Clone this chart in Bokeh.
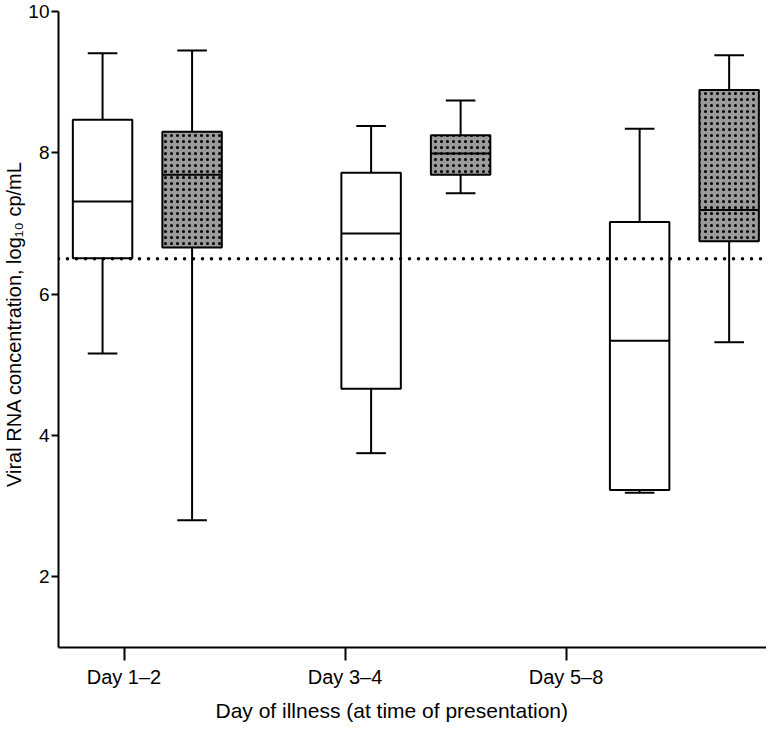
from bokeh.plotting import figure
from bokeh.models import Range1d, FixedTicker, Span, Title, ColumnDataSource
from bokeh.embed import file_html
from bokeh.resources import INLINE

# ---- data ----
groups = ["Day 1–2", "Day 3–4", "Day 5–8"]

white_low = [5.16, 3.75, 3.19]
white_q1 = [6.51, 4.66, 3.23]
white_med = [7.31, 6.86, 5.34]
white_q3 = [8.47, 7.72, 7.02]
white_high = [9.41, 8.38, 8.34]

gray_low = [2.80, 7.43, 5.32]
gray_q1 = [6.66, 7.69, 6.75]
gray_med = [7.69, 7.99, 7.19]
gray_q3 = [8.30, 8.25, 8.89]
gray_high = [9.45, 8.74, 9.38]

threshold = 6.5
y_ticks = [2, 4, 6, 8, 10]

# ---- layout constants ----
tick_pos = [1, 2, 3]
first_box = 0.903
group_step = 1.215
pair_offset = 0.405
box_w = 0.269
cap_w = 0.134

FONT = "Liberation Sans"
GRAY = "#9b9b9b"

p = figure(frame_width=708, frame_height=647, output_backend="svg", toolbar_location=None,
           x_range=Range1d(0.7036, 3.907), y_range=Range1d(1, 10.156),
           min_border_left=52, min_border_right=0, min_border_top=0,
           min_border_bottom=0)
p.outline_line_color = None
p.xgrid.visible = False
p.ygrid.visible = False
p.background_fill_color = "white"
p.border_fill_color = "white"


def draw(centers, low, q1, med, q3, high, fill, hatch):
    src = ColumnDataSource(dict(
        x=centers, low=low, q1=q1, med=med, q3=q3, high=high,
        left=[c - box_w / 2 for c in centers],
        right=[c + box_w / 2 for c in centers],
        cl=[c - cap_w / 2 for c in centers],
        cr=[c + cap_w / 2 for c in centers],
    ))
    p.segment(x0="x", y0="low", x1="x", y1="q1", source=src, line_color="black", line_width=2)
    p.segment(x0="x", y0="q3", x1="x", y1="high", source=src, line_color="black", line_width=2)
    p.segment(x0="cl", y0="low", x1="cr", y1="low", source=src, line_color="black", line_width=2)
    p.segment(x0="cl", y0="high", x1="cr", y1="high", source=src, line_color="black", line_width=2)
    kw = {}
    if hatch:
        kw = dict(hatch_pattern="dot", hatch_color="black", hatch_scale=6, hatch_weight=1)
    p.quad(left="left", right="right", bottom="q1", top="q3", source=src,
           fill_color=fill, line_color="black", line_width=2, **kw)
    p.segment(x0="left", y0="med", x1="right", y1="med", source=src, line_color="black", line_width=2)


white_x = [first_box + group_step * i for i in range(len(groups))]
gray_x = [w + pair_offset for w in white_x]

span = Span(location=threshold, dimension="width", line_color="black",
            line_width=3.5, line_dash="0 9", line_cap="round")
p.add_layout(span)

draw(white_x, white_low, white_q1, white_med, white_q3, white_high, "white", False)
draw(gray_x, gray_low, gray_q1, gray_med, gray_q3, gray_high, GRAY, True)

# axes
p.yaxis.ticker = FixedTicker(ticks=y_ticks)
p.yaxis.bounds = (1, 10)
p.yaxis.axis_line_width = 2
p.yaxis.major_tick_line_width = 2
p.yaxis.major_tick_out = 7
p.yaxis.major_tick_in = 0
p.yaxis.minor_tick_line_color = None
p.yaxis.major_label_standoff = 2
p.yaxis.major_label_text_font = FONT
p.yaxis.major_label_text_font_size = "19px"
p.yaxis.major_label_text_color = "black"
p.yaxis.axis_label = "Viral RNA concentration, log₁₀ cp/mL"
p.yaxis.axis_label_text_font = FONT
p.yaxis.axis_label_text_font_size = "20px"
p.yaxis.axis_label_text_font_style = "normal"
p.yaxis.axis_label_text_color = "black"
p.yaxis.axis_label_standoff = 0

p.xaxis.ticker = FixedTicker(ticks=tick_pos)
p.xaxis.major_label_overrides = {t: g for t, g in zip(tick_pos, groups)}
p.xaxis.axis_line_width = 2
p.xaxis.major_tick_line_width = 2
p.xaxis.major_tick_out = 13
p.xaxis.major_tick_in = 0
p.xaxis.minor_tick_line_color = None
p.xaxis.major_label_standoff = 5
p.xaxis.major_label_text_font = FONT
p.xaxis.major_label_text_font_size = "20px"
p.xaxis.major_label_text_color = "black"

xt = Title(text="Day of illness (at time of presentation)", align="left", offset=157,
           text_font=FONT, text_font_size="21px", text_font_style="normal",
           text_color="black", standoff=12)
p.add_layout(xt, "below")

open("out.html", "w").write(file_html(p, INLINE))
